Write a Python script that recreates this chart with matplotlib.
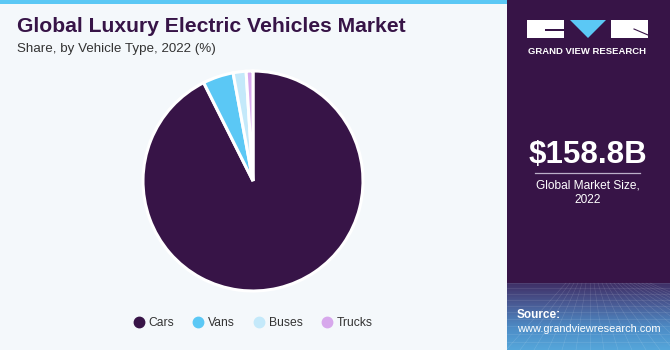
import numpy as np
import matplotlib
matplotlib.use("Agg")
import matplotlib.pyplot as plt
from matplotlib.patches import Rectangle, Polygon
from matplotlib.lines import Line2D

plt.rcParams["font.family"] = ["Liberation Sans", "DejaVu Sans"]

# data
vehicle_types = ["Cars", "Vans", "Buses", "Trucks"]
shares = [92.6, 4.5, 1.9, 1.0]
colors = ["#371447", "#5BC8F5", "#C4E9FA", "#D7A8EC"]

title = "Global Luxury Electric Vehicles Market"
subtitle = "Share, by Vehicle Type, 2022 (%)"
market_size = "$158.8B"
market_label = "Global Market Size,\n2022"

W, H = 670, 350
fig = plt.figure(figsize=(W / 100, H / 100), dpi=100)
fig.patch.set_facecolor("#F4F8FB")


def fx(x):
    return x / W


def fy(y):
    return 1 - y / H


# background pieces
bg = fig.add_axes([0, 0, 1, 1])
bg.set_xlim(0, W)
bg.set_ylim(H, 0)
bg.axis("off")
bg.add_patch(Rectangle((0, 0), 507, 4, color="#5BC8F5", lw=0))
bg.add_patch(Rectangle((507, 0), W - 507, H, color="#371447", lw=0))

# bottom gradient on side panel
grad = np.linspace(0, 1, 100).reshape(-1, 1)
cmap = matplotlib.colors.LinearSegmentedColormap.from_list(
    "g", ["#3F2F66", "#4A5E98", "#4D8CC6", "#55A6DA"])
bg.imshow(grad, extent=(507, W, H, 283), cmap=cmap, aspect="auto", zorder=1)
for k in range(12):
    yy = 283 + k * 5 + k * k * 0.17
    bg.plot([507, W], [yy, yy], color="white", lw=0.4, alpha=0.15, zorder=2)
for k in range(-6, 16):
    x0 = 590 + k * 4
    x1 = 590 + k * 14
    bg.plot([x0, x1], [283, H], color="white", lw=0.4, alpha=0.15, zorder=2)
bg.set_xlim(0, W)
bg.set_ylim(H, 0)

# logo
bg.add_patch(Rectangle((527, 20), 37, 18, color="white", lw=0, zorder=3))
bg.add_patch(Rectangle((545, 29), 19, 2, color="#371447", lw=0, zorder=4))
bg.add_patch(Polygon([(570, 20), (606, 20), (588, 38)], closed=True,
                     color="#5BC8F5", lw=0, zorder=3))
bg.add_patch(Rectangle((611, 20), 37, 18, color="white", lw=0, zorder=3))
bg.plot([634, 648], [29, 35], color="#371447", lw=0.8, zorder=4)
bg.text(587.5, 51, "GRAND VIEW RESEARCH", color="white", fontsize=6.8,
        fontweight="bold", ha="center", va="center", zorder=4)

# side panel text
bg.text(587.5, 155, market_size, color="white", fontsize=22.5,
        fontweight="bold", ha="center", va="center", zorder=4)
bg.plot([535, 640], [173, 173], color="#BBAFC8", lw=0.9, zorder=4)
bg.text(587.5, 193, market_label, color="white", fontsize=8.6,
        ha="center", va="center", linespacing=1.3, zorder=4)
bg.text(517, 315, "Source:", color="white", fontsize=8.5, fontweight="bold",
        ha="left", va="center", zorder=4)
bg.text(517, 329, "www.grandviewresearch.com", color="white", fontsize=7.9,
        ha="left", va="center", zorder=4)

# titles
bg.text(17, 27, title, color="#371447", fontsize=15.2, fontweight="bold",
        ha="left", va="center")
bg.text(17, 49, subtitle, color="#333333", fontsize=9.6, ha="left",
        va="center")

# pie
cx, cy, r = 253, 181, 110
ax = fig.add_axes([fx(cx - r), fy(cy + r), 2 * r / W, 2 * r / H])
ax.pie(shares, colors=colors, startangle=90, counterclock=False,
       wedgeprops=dict(edgecolor="white", linewidth=2.2))
ax.set_xlim(-1, 1)
ax.set_ylim(-1, 1)
ax.axis("off")

# legend
handles = [Line2D([0], [0], marker="o", color="none", markerfacecolor=c,
                  markeredgecolor=c, markersize=7.5) for c in colors]
fig.legend(handles, vehicle_types, loc="center", ncol=4, frameon=False,
           bbox_to_anchor=(fx(252), fy(323)), fontsize=8.7,
           handletextpad=0.2, columnspacing=1.4, handlelength=1.2,
           labelcolor="#333333")

fig.savefig("out.png", dpi=100, facecolor=fig.get_facecolor())
